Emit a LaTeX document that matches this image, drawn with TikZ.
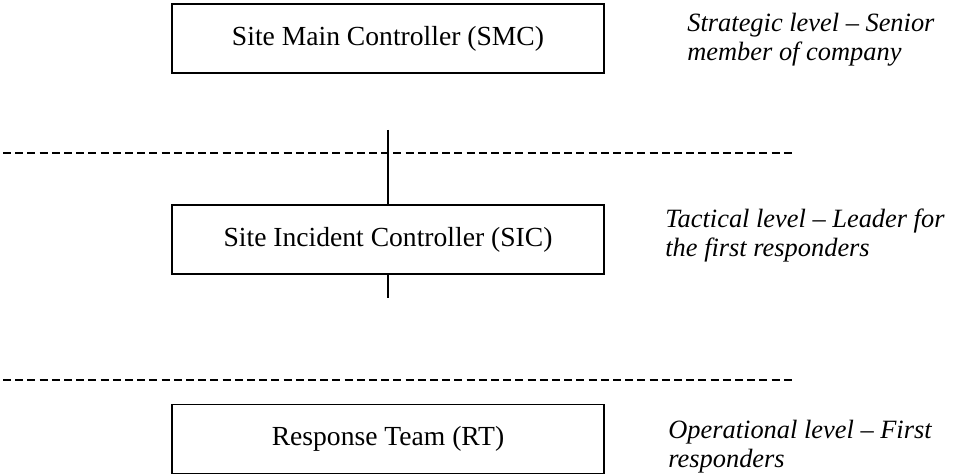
\documentclass[tikz,border=0pt]{standalone}
\usepackage{fontspec}
\setmainfont{Liberation Serif}
\tikzset{%
    lvlbox/.style={draw=black,line width=0.9pt,minimum width=216pt,minimum height=34.5pt,inner sep=0pt,font=\fontsize{13.8}{15}\selectfont}
}

\begin{document}
\begin{tikzpicture}[x=0.5pt,y=-0.5pt,
    note/.style={anchor=north west,align=left,inner sep=0pt,font=\fontsize{13.2}{14.5}\selectfont\itshape},
    sep/.style={line width=0.9pt,dash pattern=on 4pt off 2.1pt}]
        \useasboundingbox (0,0) rectangle (954,475);
        \node[lvlbox] (smc) at (388,38.5){Site Main Controller (SMC)};
        \node[lvlbox] (sic) at (388,239.5){Site Incident Controller (SIC)};
        \node[lvlbox] (rt) at (388,439){Response Team (RT)};

        \coordinate (up) at (388,130);
        \coordinate (down) at (388,298);
        \path[]
            (up) edge[line width=0.9pt] (sic)
            (sic) edge[line width=0.9pt] (down);

        \coordinate (s1) at (3,153);
        \coordinate (e1) at (795,153);
        \coordinate (s2) at (3,380);
        \coordinate (e2) at (795,380);
        \draw[sep] (s1) -- (e1);
        \draw[sep] (s2) -- (e2);

        \node[note] (strat) at (687,13){Strategic level – Senior\\member of company};
        \node[note] (tact) at (665,209){Tactical level – Leader for\\the first responders};
        \node[note] (oper) at (668,420){Operational level – First\\responders};
    \end{tikzpicture}
\end{document}
